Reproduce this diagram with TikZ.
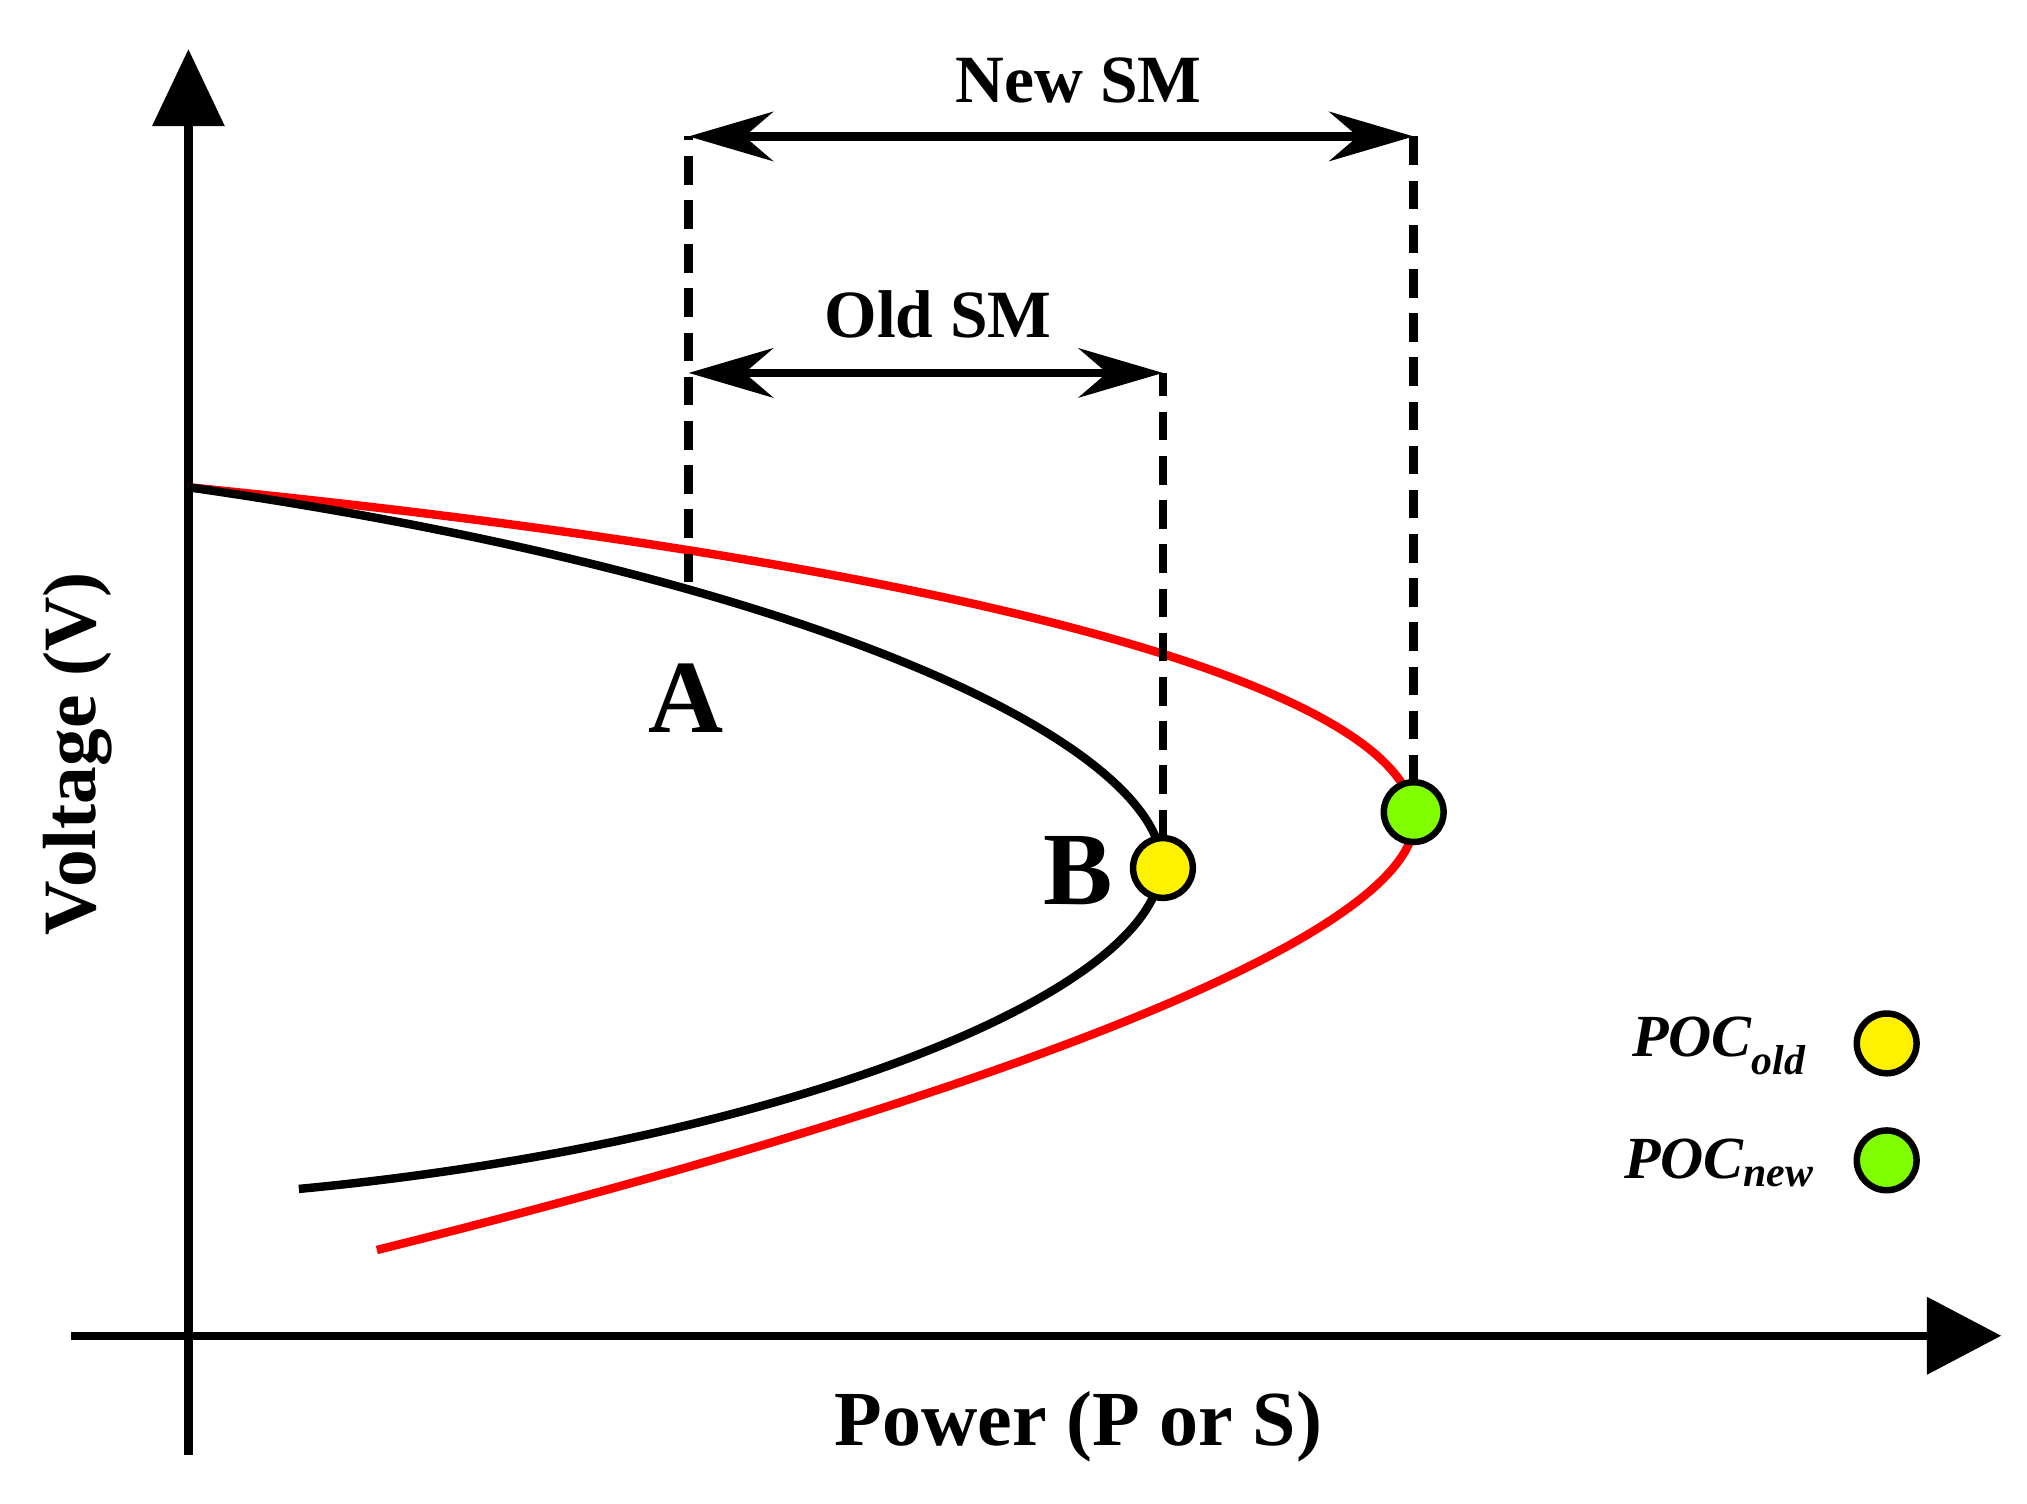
\documentclass[tikz,border=0pt]{standalone}
\usepackage{fontspec}
\setmainfont{Liberation Serif}
\usetikzlibrary{arrows.meta}
\definecolor{pgreen}{RGB}{128,255,0}
\begin{document}
\begin{tikzpicture}[x=1pt,y=-1pt,line width=6.5pt,
  lbl/.style={font=\bfseries\fontsize{52}{60}\selectfont},
  dim/.style={line width=6.5pt,{Stealth[length=65pt,width=38pt,inset=22pt]}-{Stealth[length=65pt,width=38pt,inset=22pt]}},
  dsh/.style={line width=6.5pt,dash pattern=on 22pt off 12pt},
  pt/.style={circle,draw=black,line width=5pt,minimum size=46pt,inner sep=0pt}]
\useasboundingbox (0,0) rectangle (1560,1157);
% axes
\draw (145,1120) -- (145,95);
\fill (145,38) -- (173,97) -- (117,97) -- cycle;
\draw (55,1028) -- (1485,1028);
\fill (1540,1028) -- (1483,998) -- (1483,1058) -- cycle;
% curves
\draw[red] (145,375) .. controls (700,430) and (1070,520) .. (1088,625) .. controls (1105,725) and (700,860) .. (290,962);
\draw[black] (145,375) .. controls (600,440) and (870,560) .. (893,655) .. controls (912,760) and (600,880) .. (230,915);
% dashed
\coordinate (a0) at (530,448); \coordinate (a1) at (530,105); \coordinate (a2) at (530,287);
\coordinate (b0) at (895,645); \coordinate (b1) at (895,287);
\coordinate (c0) at (1088,603); \coordinate (c1) at (1088,105);
\draw[dsh] (a0) -- (a1);
\draw[dsh] (b0) -- (b1);
\draw[dsh] (c0) -- (c1);
\draw[dim] (a1) -- (c1);
\draw[dim] (a2) -- (b1);
\node[lbl] (nsm) at (830,62) {New SM};
\node[lbl] (osm) at (722,242) {Old SM};
\node[font=\bfseries\fontsize{80}{90}\selectfont] (A) at (528,537) {A};
\node[font=\bfseries\fontsize{80}{90}\selectfont] (B) at (830,670) {B};
\node[pt,fill=yellow] (py) at (895,668) {};
\node[pt,fill=pgreen] (pg) at (1088,625) {};
\node[lbl,rotate=90,font=\bfseries\fontsize{58}{60}\selectfont] (vl) at (60,580) {Voltage (V)};
\node[font=\bfseries\fontsize{60}{66}\selectfont] (pl) at (830,1098) {Power (P or S)};
\node[font=\bfseries\itshape\fontsize{46}{50}\selectfont] (l1) at (1323,805) {POC\textsubscript{old}};
\node[font=\bfseries\itshape\fontsize{46}{50}\selectfont] (l2) at (1323,895) {POC\textsubscript{new}};
\node[pt,fill=yellow] (ly) at (1452,803) {};
\node[pt,fill=pgreen] (lg) at (1452,893) {};
\end{tikzpicture}
\end{document}
